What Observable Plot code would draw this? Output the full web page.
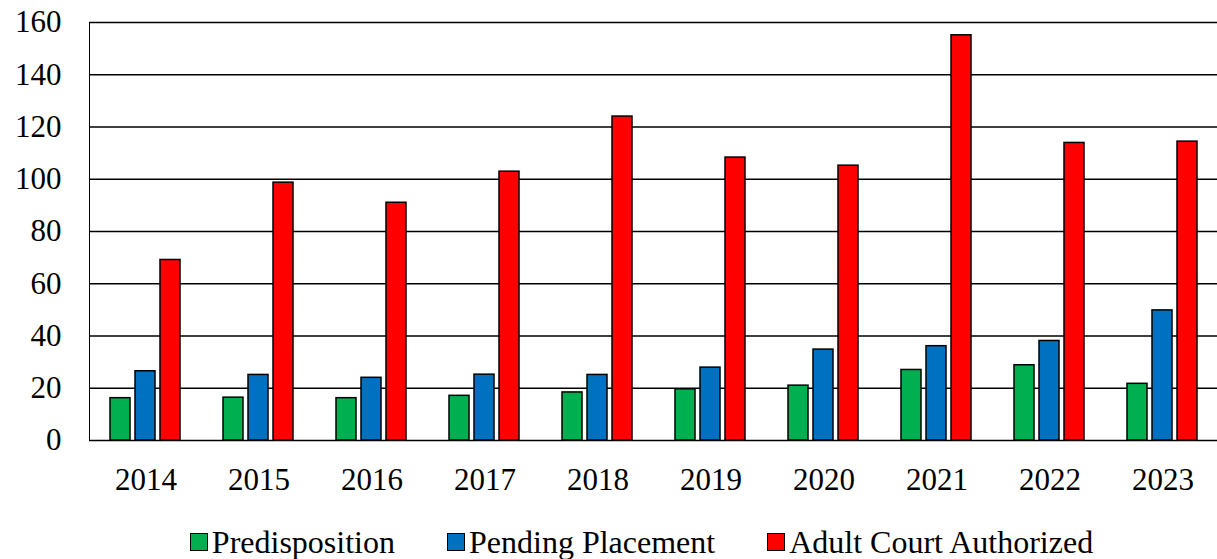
<!DOCTYPE html>
<html>
<head>
<meta charset="utf-8">
<script src="https://cdn.jsdelivr.net/npm/d3@7"></script>
<script src="https://cdn.jsdelivr.net/npm/@observablehq/plot@0.6"></script>
<style>
  html, body { margin: 0; background: #fff; overflow: hidden; font-family: "Liberation Serif", "Times New Roman", serif; }
  #chart svg { display: block; }
  #legend { display: flex; justify-content: center; gap: 52px; font-size: 32px; line-height: 34px; margin-top: 25px; margin-left: 66px; }
  .item { display: flex; align-items: center; }
  .sw { width: 16px; height: 16px; border: 1.5px solid #000; margin-right: 4px; }
</style>
</head>
<body>
<div id="chart"></div>
<div id="legend"></div>
<script>
const years = ["2014","2015","2016","2017","2018","2019","2020","2021","2022","2023"];
const seriesNames = ["Predisposition", "Pending Placement", "Adult Court Authorized"];
const predisposition = [16.2, 16.4, 16.2, 17.1, 18.4, 19.6, 21.0, 27.0, 28.8, 21.7];
const pendingPlacement = [26.5, 25.1, 24.0, 25.2, 25.1, 27.9, 34.8, 36.1, 38.1, 49.8];
const adultCourt = [69.1, 98.7, 91.0, 102.9, 124.0, 108.3, 105.2, 155.1, 113.9, 114.4];
const yTicks = [0, 20, 40, 60, 80, 100, 120, 140, 160];
const colors = ["#00B050", "#0070C0", "#FF0000"];

const seriesValues = [predisposition, pendingPlacement, adultCourt];
const data = [];
years.forEach((y, i) => {
  seriesNames.forEach((s, j) => data.push({year: y, series: s, value: seriesValues[j][i]}));
});

const chart = Plot.plot({
  width: 1217,
  height: 500,
  marginTop: 22,
  marginBottom: 60,
  marginLeft: 85,
  marginRight: -6,
  style: {fontFamily: "'Liberation Serif', 'Times New Roman', serif", fontSize: "31px", color: "#000", background: "#fff", overflow: "hidden"},
  fx: {domain: years, padding: 0, label: null, tickSize: 0, tickPadding: 27, axis: "bottom"},
  x: {domain: seriesNames, axis: null, paddingInner: 0.19, paddingOuter: 0.82},
  y: {domain: [0, 160], ticks: yTicks, tickSize: 0, tickPadding: 28, label: null, line: true, tickFormat: d => String(d)},
  color: {domain: seriesNames, range: colors},
  marks: [
    Plot.ruleY(yTicks, {stroke: "#000", strokeWidth: 1.5}),
    Plot.barY(data, {fx: "year", x: "series", y: "value", fill: "series", stroke: "#000", strokeWidth: 1.5})
  ]
});
document.getElementById("chart").appendChild(chart);

const legend = document.getElementById("legend");
seriesNames.forEach((s, j) => {
  const item = document.createElement("div");
  item.className = "item";
  const sw = document.createElement("span");
  sw.className = "sw";
  sw.style.background = colors[j];
  const t = document.createElement("span");
  t.textContent = s;
  item.appendChild(sw);
  item.appendChild(t);
  legend.appendChild(item);
});
</script>
</body>
</html>
